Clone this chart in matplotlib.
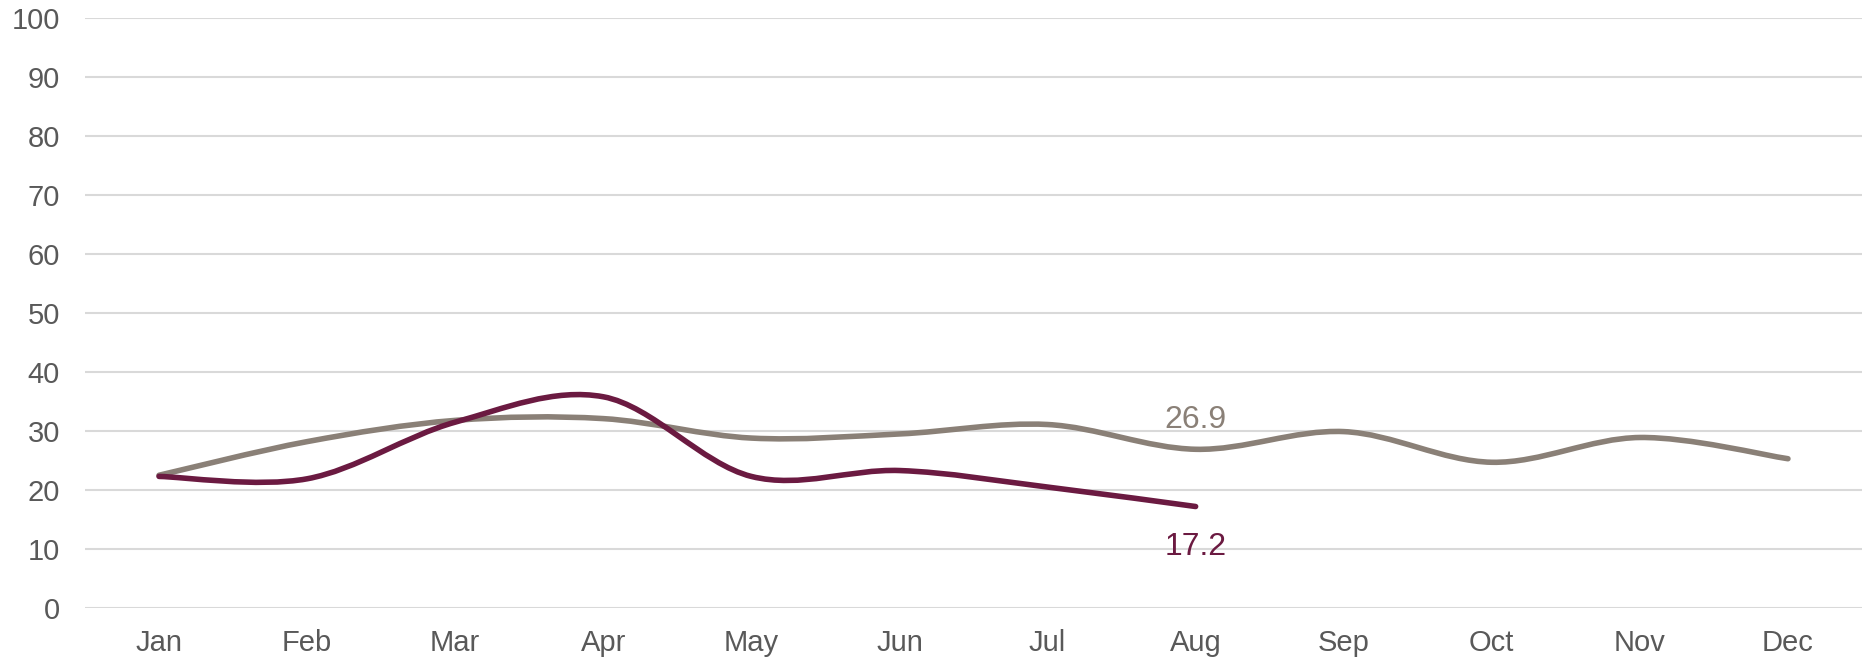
import numpy as np
import matplotlib; matplotlib.use('agg')
import matplotlib.pyplot as plt
from matplotlib.path import Path
from matplotlib.patches import PathPatch

months = ["Jan", "Feb", "Mar", "Apr", "May", "Jun", "Jul", "Aug", "Sep", "Oct", "Nov", "Dec"]
gray_vals = [22.5, 28.2, 31.8, 32.1, 28.8, 29.5, 31.1, 26.9, 29.9, 24.7, 28.9, 25.3]
red_vals = [22.3, 21.9, 31.5, 35.8, 22.3, 23.3, 20.5, 17.2]

gray_col = "#8a8077"
red_col = "#6b1a41"
text_col = "#595959"
grid_col = "#d9d9d9"

plt.rcParams['font.family'] = ['Liberation Sans', 'DejaVu Sans']


def smooth_path(xs, ys):
    # Catmull-Rom style bezier like Excel's smoothed lines
    xs = np.asarray(xs, float)
    ys = np.asarray(ys, float)
    n = len(xs)
    verts = [(xs[0], ys[0])]
    codes = [Path.MOVETO]
    for i in range(n - 1):
        p0 = i - 1 if i > 0 else i
        p3 = i + 2 if i + 2 < n else i + 1
        c1 = (xs[i] + (xs[i + 1] - xs[p0]) / 6, ys[i] + (ys[i + 1] - ys[p0]) / 6)
        c2 = (xs[i + 1] - (xs[p3] - xs[i]) / 6, ys[i + 1] - (ys[p3] - ys[i]) / 6)
        verts += [c1, c2, (xs[i + 1], ys[i + 1])]
        codes += [Path.CURVE4] * 3
    return Path(verts, codes)


fig = plt.figure(figsize=(18.62, 6.6), dpi=100)
ax = fig.add_axes([85 / 1862, 52 / 660, 1 - 85 / 1862, 590 / 660])

x_all = np.arange(len(months))
for vals, col, z in [(gray_vals, gray_col, 3), (red_vals, red_col, 4)]:
    p = smooth_path(x_all[:len(vals)], vals)
    ax.add_patch(PathPatch(p, facecolor='none', edgecolor=col, lw=4,
                           capstyle='round', joinstyle='round', zorder=z))

# data labels at last red point
ax.annotate("26.9", (7, gray_vals[7]), xytext=(0, 10), textcoords='offset points',
            ha='center', va='bottom', fontsize=23, color=gray_col)
ax.annotate("17.2", (7, red_vals[7]), xytext=(0, -18), textcoords='offset points',
            ha='center', va='top', fontsize=23, color=red_col)

ax.set_xlim(-0.5, 11.5)
ax.set_ylim(0, 100)
ax.set_yticks(range(0, 101, 10))
ax.set_xticks(x_all)
ax.set_xticklabels(months)
ax.yaxis.grid(True, color=grid_col, lw=1.5)
ax.set_axisbelow(True)
for s in ax.spines.values():
    s.set_visible(False)
ax.tick_params(axis='both', length=0, labelsize=21, colors=text_col)
ax.tick_params(axis='y', pad=18)
ax.tick_params(axis='x', pad=15)

fig.savefig("out.png", dpi=100)
